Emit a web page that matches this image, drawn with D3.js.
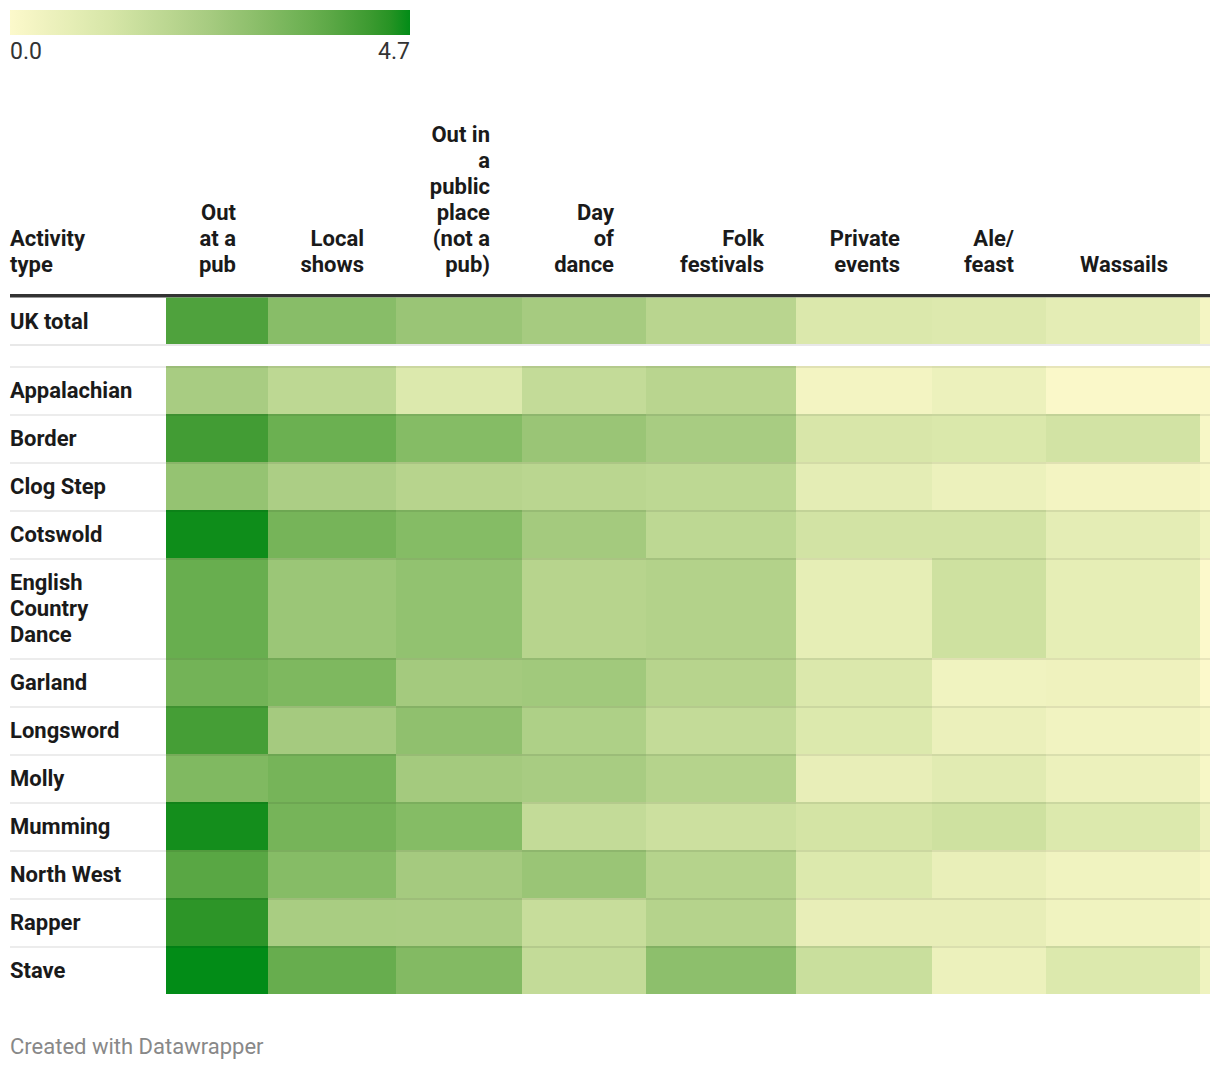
<!DOCTYPE html>
<html>
<head>
<meta charset="utf-8">
<script src="https://cdn.jsdelivr.net/npm/d3@7"></script>
<style>
  body { margin: 0; background: #fff; font-family: Roboto, "Noto Sans", sans-serif; }
</style>
</head>
<body>
<svg id="chart" width="1220" height="1070"></svg>
<script>
// ---------- data ----------
const columns = ["Out at a pub", "Local shows", "Out in a public place (not a pub)", "Day of dance",
  "Folk festivals", "Private events", "Ale/ feast", "Wassails", ""];
const headerLines = [["Out", "at a", "pub"], ["Local", "shows"], ["Out in", "a", "public", "place", "(not a", "pub)"],
  ["Day", "of", "dance"], ["Folk", "festivals"], ["Private", "events"], ["Ale/", "feast"], ["Wassails"], []];
const totalRow = "UK total";
const totalValues = [3.95, 2.95, 2.6, 2.35, 1.9, 1.05, 0.98, 0.75, 0.25];
const activities = ["Appalachian", "Border", "Clog Step", "Cotswold", "English Country Dance", "Garland",
  "Longsword", "Molly", "Mumming", "North West", "Rapper", "Stave"];
const activityLines = [["Appalachian"], ["Border"], ["Clog Step"], ["Cotswold"], ["English", "Country", "Dance"],
  ["Garland"], ["Longsword"], ["Molly"], ["Mumming"], ["North West"], ["Rapper"], ["Stave"]];
const appalachian = [2.3, 1.8, 1.0, 1.65, 1.9, 0.3, 0.5, 0.05, 0.05];
const border      = [4.15, 3.5, 3.0, 2.6, 2.3, 1.15, 1.08, 1.3, 0.15];
const clogStep    = [2.7, 2.2, 1.95, 1.88, 1.8, 0.75, 0.5, 0.3, 0.15];
const cotswold    = [4.65, 3.3, 3.0, 2.4, 1.8, 1.3, 1.3, 0.75, 0.4];
const englishCD   = [3.55, 2.58, 2.75, 1.95, 2.05, 0.7, 1.4, 0.7, 0.0];
const garland     = [3.35, 3.15, 2.4, 2.45, 1.95, 1.05, 0.38, 0.42, 0.0];
const longsword   = [4.1, 2.38, 2.8, 2.15, 1.65, 1.0, 0.55, 0.35, 0.2];
const molly       = [3.1, 3.3, 2.4, 2.3, 2.0, 0.65, 0.85, 0.5, 0.15];
const mumming     = [4.62, 3.3, 3.0, 1.65, 1.45, 1.25, 1.4, 1.0, 0.5];
const northWest   = [3.8, 2.98, 2.38, 2.6, 1.98, 1.0, 0.6, 0.38, 0.2];
const rapper      = [4.4, 2.28, 2.25, 1.55, 2.0, 0.65, 0.65, 0.38, 0.25];
const stave       = [4.7, 3.58, 3.05, 1.65, 2.85, 1.5, 0.5, 1.0, 0.4];
const activityValues = [appalachian, border, clogStep, cotswold, englishCD, garland, longsword, molly,
  mumming, northWest, rapper, stave];
const legendTicks = ["0.0", "4.7"];
const domainMax = 4.7;

// ---------- layout ----------
const svg = d3.select("#chart");
const left = 10, labelW = 156;
const colWidths = [102, 128, 126, 124, 150, 136, 114, 154, 10];
const colX = [];
{ let x = left + labelW; colWidths.forEach(w => { colX.push(x); x += w; }); }
const tableRight = colX[colX.length - 1] + colWidths[colWidths.length - 1];
const FS = 22;

const color = d3.scaleLinear()
  .domain([0, domainMax * 0.25, domainMax * 0.5, domainMax * 0.75, domainMax])
  .range(["#fcf9cb", "#d7e6a8", "#a6cb80", "#6aaf50", "#028c17"])
  .interpolate(d3.interpolateLab);

// legend
const defs = svg.append("defs");
const grad = defs.append("linearGradient").attr("id", "lg");
d3.range(0, 1.0001, 0.05).forEach(t => grad.append("stop").attr("offset", t).attr("stop-color", color(t * domainMax)));
const legendScale = d3.scaleLinear().domain([0, domainMax]).range([10, 410]);
svg.append("rect").attr("x", legendScale(0)).attr("y", 10).attr("width", legendScale(domainMax) - legendScale(0))
  .attr("height", 25).attr("fill", "url(#lg)");
svg.selectAll(".lt").data(legendTicks).join("text")
  .attr("x", (d, i) => legendScale(+d))
  .attr("y", 59)
  .attr("text-anchor", (d, i) => i === 0 ? "start" : "end")
  .attr("font-size", 23).attr("fill", "#333").text(d => d);

// headers
const headerBase = 272, lh = 26;
const hdr = svg.append("g").attr("font-weight", "bold").attr("font-size", FS).attr("fill", "#1a1a1a");
function multi(g, lines, x, yLast, anchor) {
  const t = g.append("text").attr("text-anchor", anchor);
  lines.forEach((l, i) => t.append("tspan").attr("x", x).attr("y", yLast - (lines.length - 1 - i) * lh).text(l));
}
multi(hdr, ["Activity", "type"], left, headerBase, "start");
headerLines.forEach((lines, i) => {
  if (lines.length) multi(hdr, lines, colX[i] + colWidths[i] - 32, headerBase, "end");
});
svg.append("rect").attr("x", left).attr("y", 294).attr("width", tableRight - left).attr("height", 3.5).attr("fill", "#333");

// rows
function drawRow(label, lines, values, y0, h, topBorder) {
  const g = svg.append("g");
  g.selectAll("rect.cell").data(values).join("rect")
    .attr("x", (d, i) => colX[i]).attr("y", y0).attr("width", (d, i) => colWidths[i]).attr("height", h)
    .attr("fill", d => color(d));
  if (topBorder) {
    g.append("rect").attr("x", left).attr("y", y0).attr("width", tableRight - left).attr("height", 2)
      .attr("fill", "rgba(0,0,0,0.075)");
  }
  const cy = y0 + h / 2;
  const t = g.append("text").attr("font-weight", "bold").attr("font-size", FS).attr("fill", "#1a1a1a");
  lines.forEach((l, i) => t.append("tspan").attr("x", left)
    .attr("y", cy + 8 + (i - (lines.length - 1) / 2) * lh).text(l));
}
drawRow(totalRow, [totalRow], totalValues, 297.5, 46.5, false);
svg.append("rect").attr("x", left).attr("y", 344).attr("width", tableRight - left).attr("height", 2).attr("fill", "#e8e8e8");

let y = 366;
activities.forEach((a, i) => {
  const h = 22 + 26 * activityLines[i].length;
  drawRow(a, activityLines[i], activityValues[i], y, h, true);
  y += h;
});

// footer
svg.append("text").attr("x", left).attr("y", 1054).attr("font-size", FS).attr("fill", "#888")
  .text("Created with Datawrapper");
</script>
</body>
</html>
